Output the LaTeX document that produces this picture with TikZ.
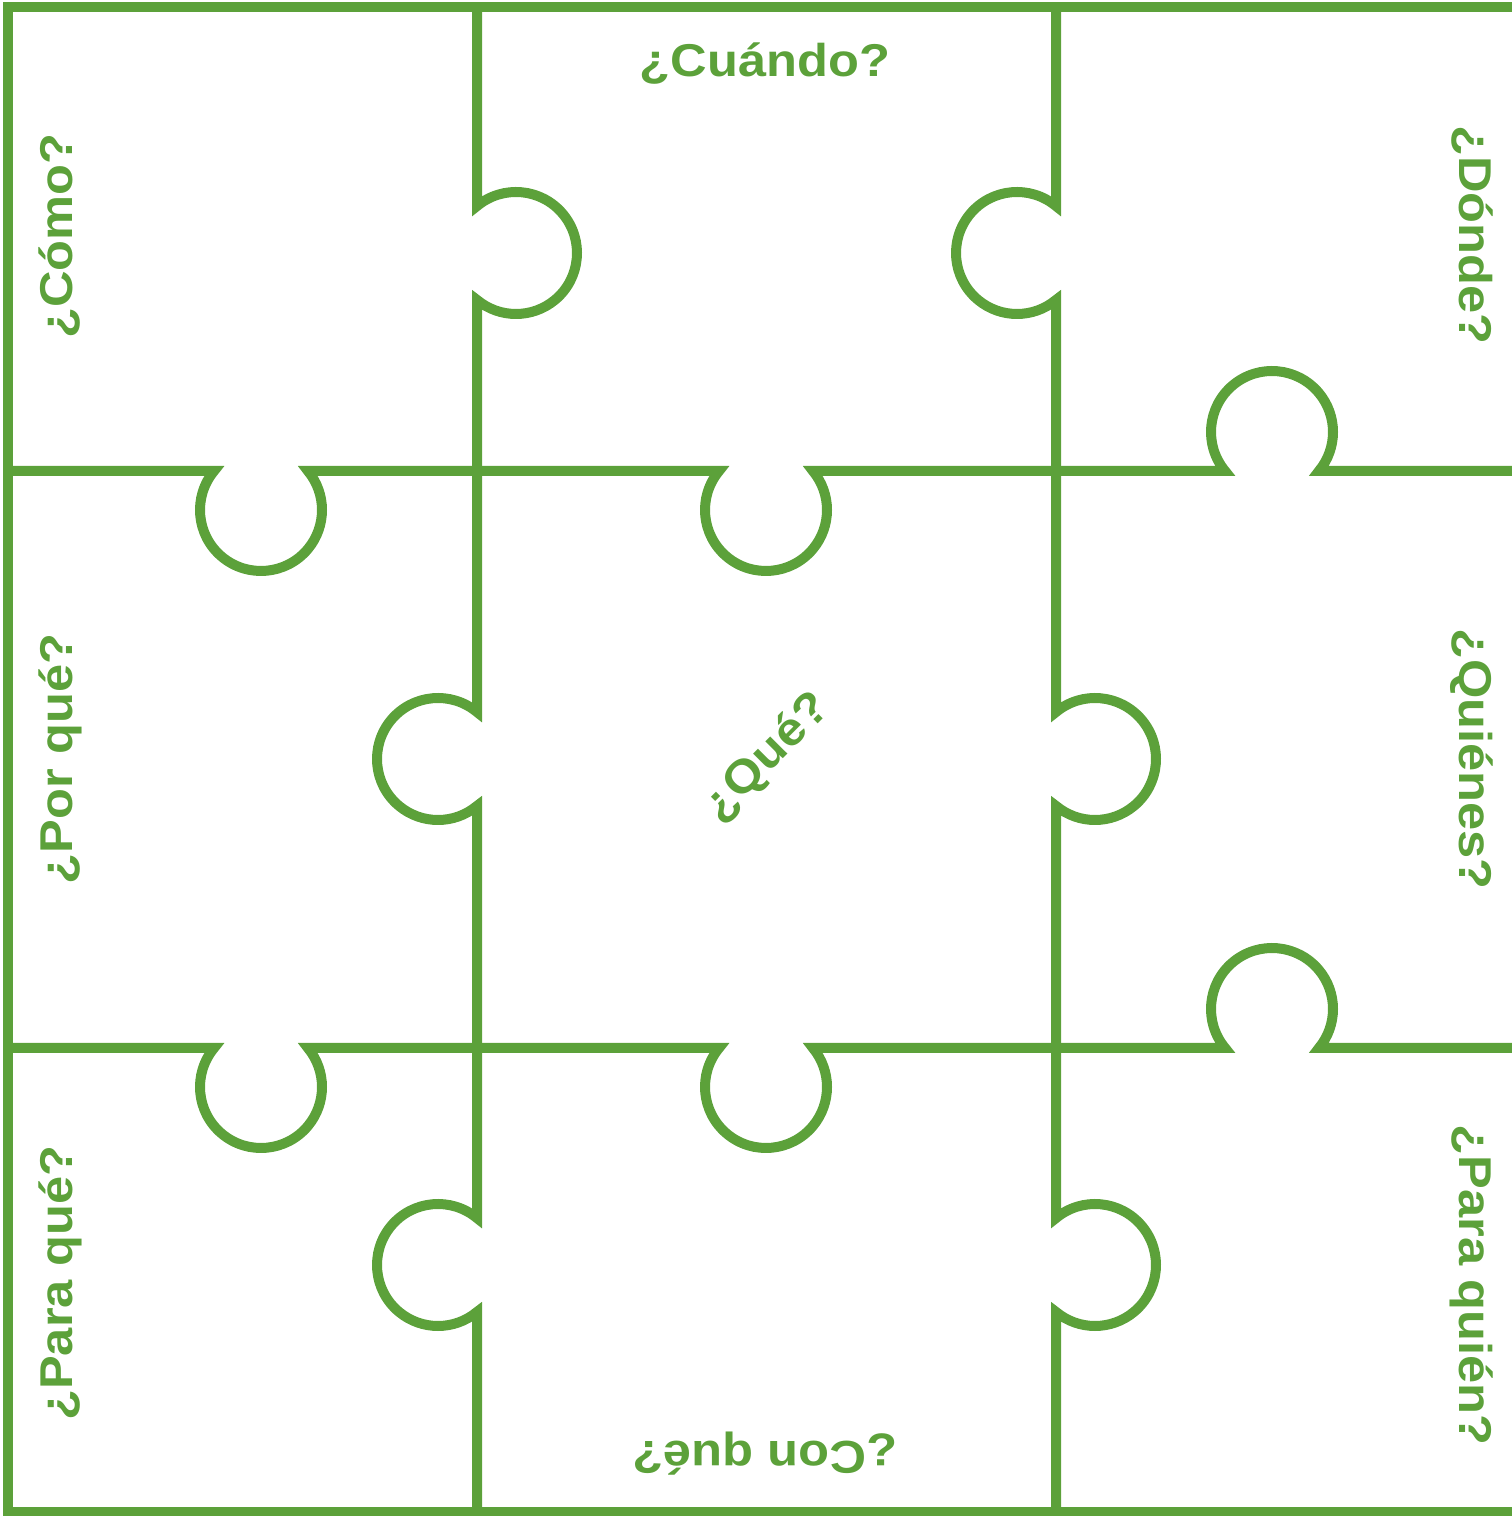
\documentclass[tikz,border=0pt]{standalone}
\usepackage{fontspec}
\setmainfont{Liberation Sans}[FakeStretch=1.1]
\definecolor{leaf}{RGB}{92,161,58}
\tikzset{
  edge/.style={draw=leaf, line width=10pt, miter limit=10},
  lbl/.style={text=leaf, font=\fontsize{46}{52}\selectfont\bfseries, inner sep=0pt}
}
\begin{document}
\begin{tikzpicture}[x=1pt,y=1pt]
\useasboundingbox (0,0) rectangle (1512,1516);
\clip (0,0) rectangle (1512,1516);
% outer frame
\draw[edge] (8,4) rectangle (1520,1509);
% vertical line x=477
\draw[edge] (477,1509) -- (477,1309.9)
  arc[start angle=129.74,end angle=-129.74,radius=61] -- (477,803.9)
  arc[start angle=50.26,end angle=309.74,radius=61] -- (477,297.9)
  arc[start angle=50.26,end angle=309.74,radius=61] -- (477,4);
% vertical line x=1056
\draw[edge] (1056,1509) -- (1056,1309.9)
  arc[start angle=50.26,end angle=309.74,radius=61] -- (1056,803.9)
  arc[start angle=129.74,end angle=-129.74,radius=61] -- (1056,297.9)
  arc[start angle=129.74,end angle=-129.74,radius=61] -- (1056,4);
% horizontal line y=1045
\draw[edge] (8,1045) -- (214.1,1045)
  arc[start angle=140.26,end angle=399.74,radius=61] -- (719.1,1045)
  arc[start angle=140.26,end angle=399.74,radius=61] -- (1225.1,1045)
  arc[start angle=219.74,end angle=-39.74,radius=61] -- (1520,1045);
% horizontal line y=468
\draw[edge] (8,468) -- (214.1,468)
  arc[start angle=140.26,end angle=399.74,radius=61] -- (719.1,468)
  arc[start angle=140.26,end angle=399.74,radius=61] -- (1225.1,468)
  arc[start angle=219.74,end angle=-39.74,radius=61] -- (1520,468);
% labels
\node[lbl] (cuando) at (765,1452) {¿Cuándo?};
\node[lbl, rotate=90] (como) at (60,1280) {¿Cómo?};
\node[lbl, rotate=90] (porque) at (60,757) {¿Por qué?};
\node[lbl, rotate=90] (paraque) at (60,233) {¿Para qué?};
\node[lbl, rotate=-90] (donde) at (1472,1281) {¿Dónde?};
\node[lbl, rotate=-90] (quienes) at (1472,757) {¿Quiénes?};
\node[lbl, rotate=-90] (paraquien) at (1472,231) {¿Para quién?};
\node[lbl, rotate=180] (conque) at (765,62) {¿Con qué?};
\node[lbl, rotate=45] (que) at (767,758) {¿Qué?};
\end{tikzpicture}
\end{document}
